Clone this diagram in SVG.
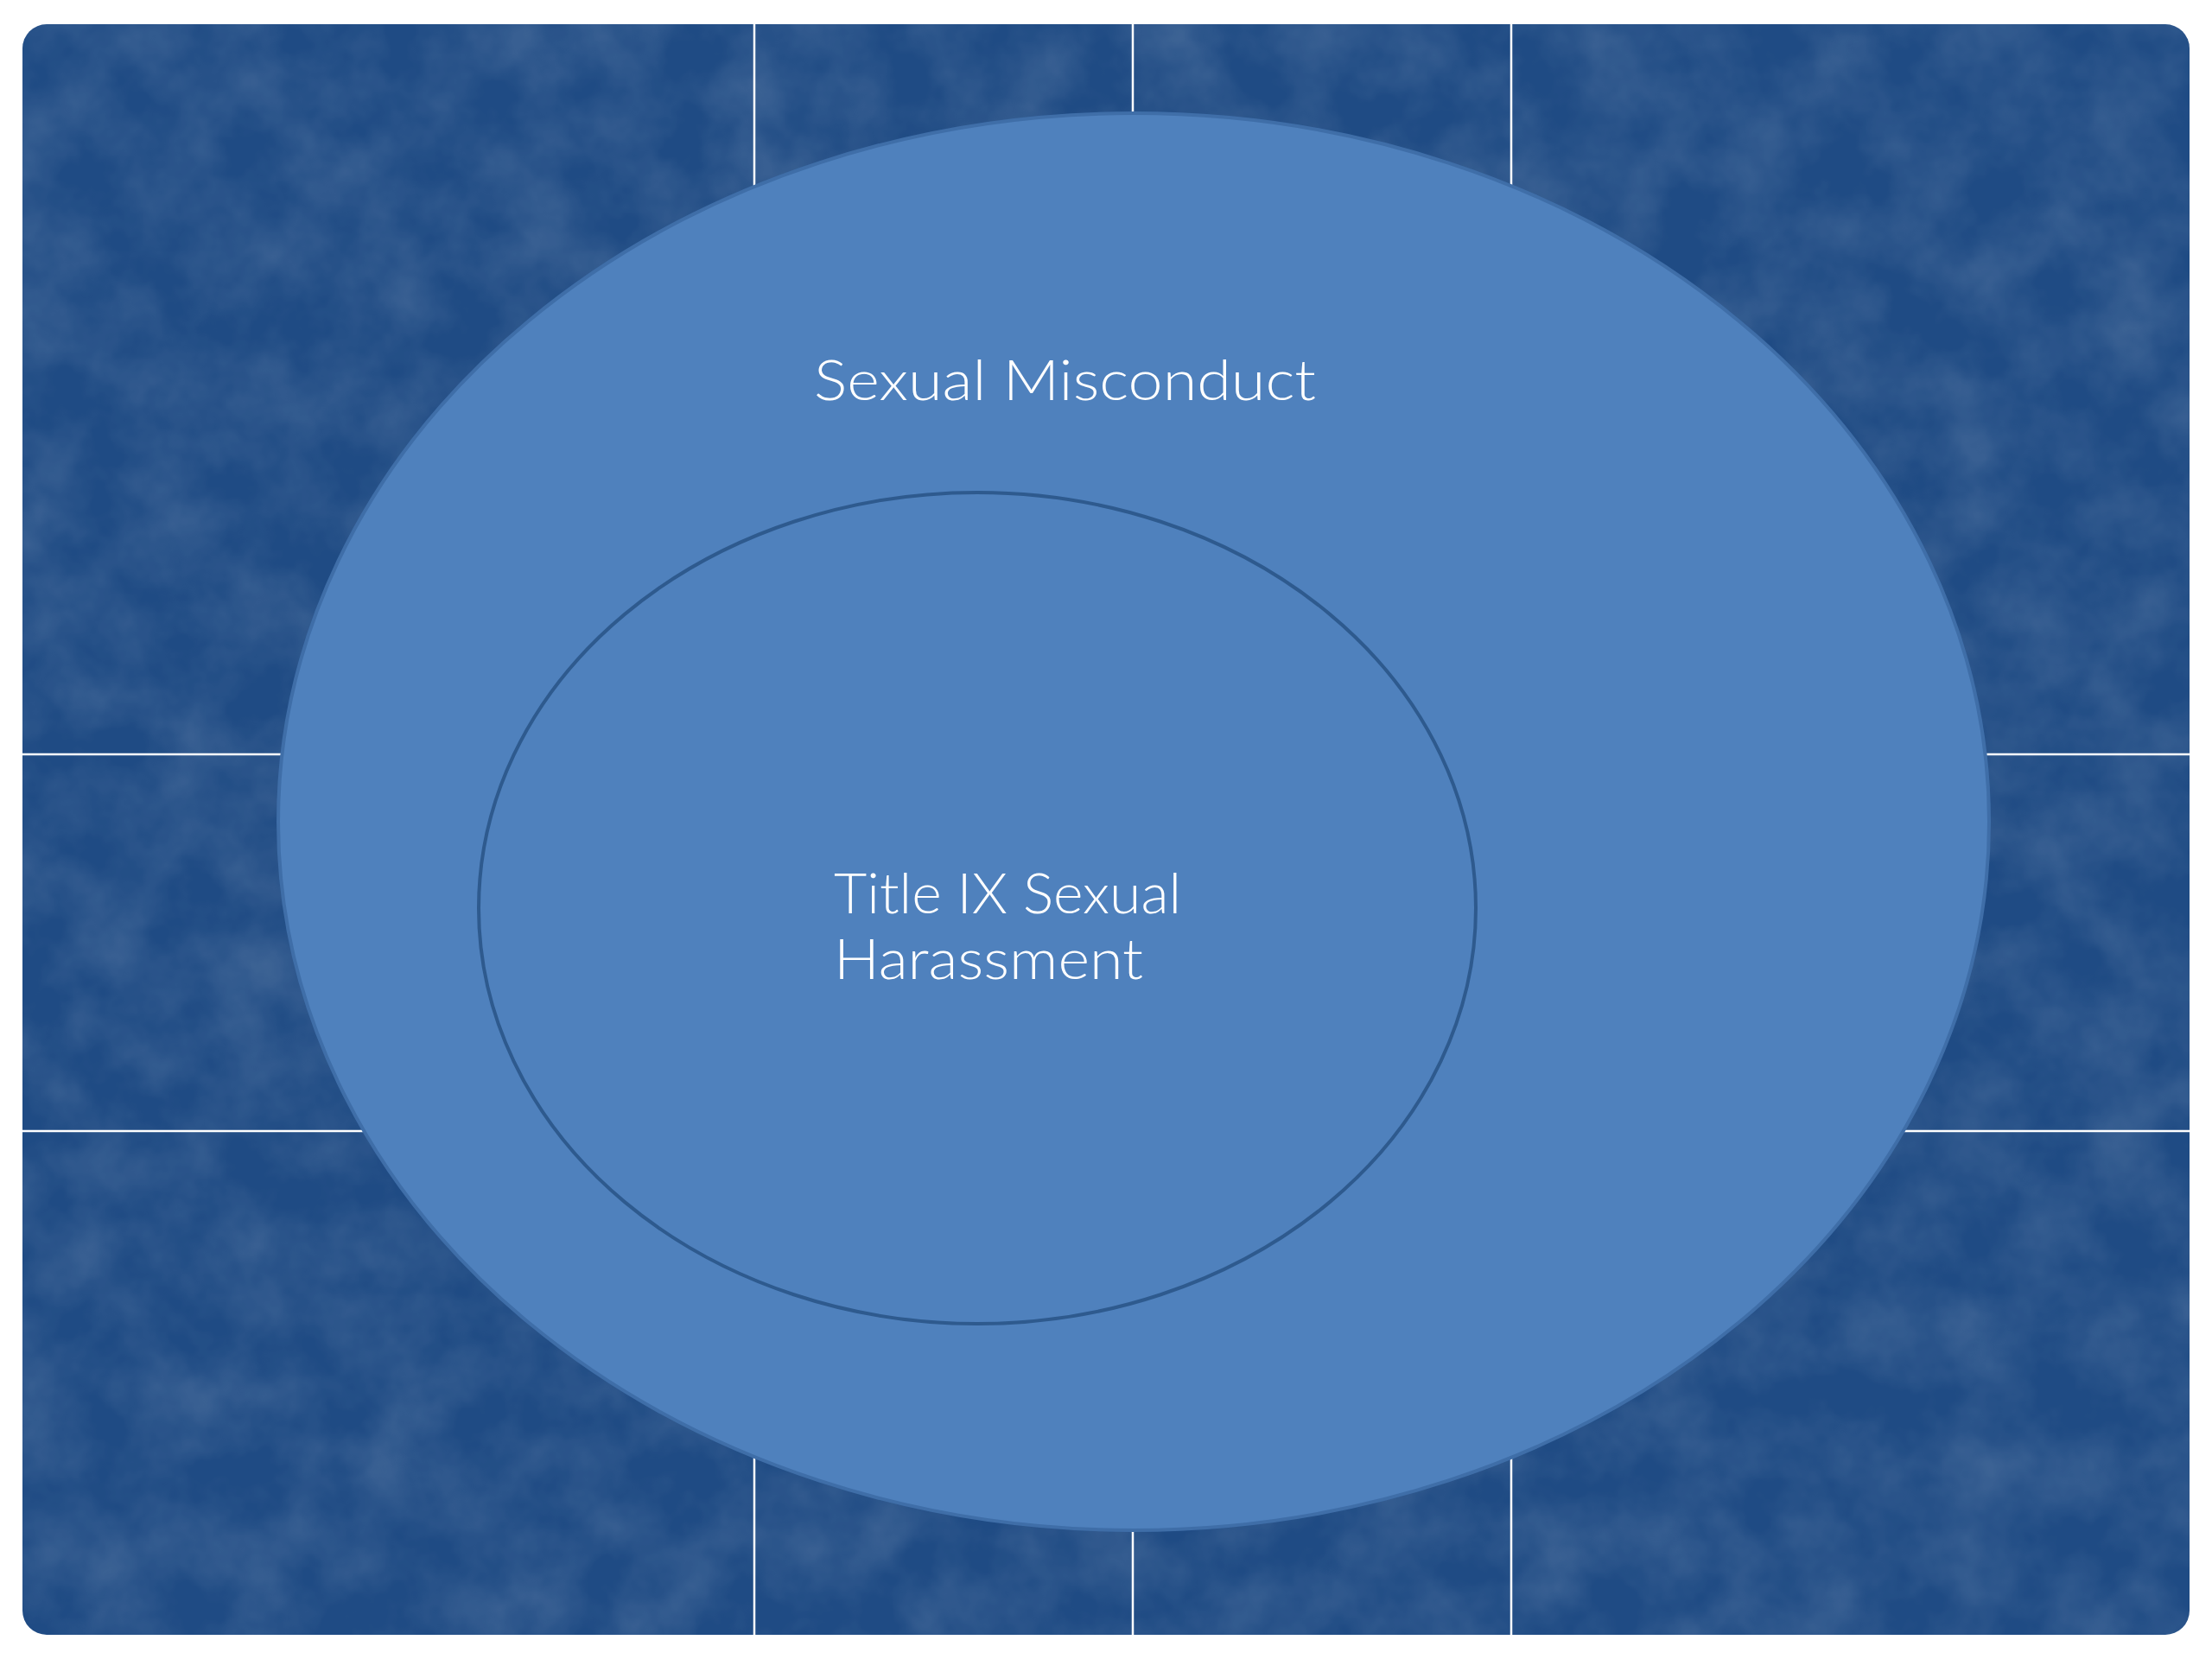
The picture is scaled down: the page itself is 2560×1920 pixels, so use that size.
<svg xmlns="http://www.w3.org/2000/svg" width="2560" height="1920" viewBox="0 0 2560 1920">
  <defs>
    <filter id="mottle" x="0" y="0" width="100%" height="100%">
      <feTurbulence type="fractalNoise" baseFrequency="0.012" numOctaves="4" seed="7" result="n"/>
      <feColorMatrix in="n" type="matrix" values="0 0 0 0 1  0 0 0 0 1  0 0 0 0 1  0.22 0 0 0 -0.07" result="c"/>
      <feComposite in="c" in2="SourceGraphic" operator="in"/>
    </filter>
    <clipPath id="bgclip">
      <rect x="26" y="28" width="2508" height="1864" rx="28" ry="28"/>
    </clipPath>
  </defs>
  <style>
    .grid { stroke: #ffffff; stroke-width: 2.5; fill: none; }
    .outer { fill: #4F81BD; stroke: #3F6EA8; stroke-width: 4; }
    .inner { fill: #4F81BD; stroke: #2E5A8E; stroke-width: 4; }
    .lbl { font-family: "Lato", "Open Sans", "Liberation Sans", sans-serif; font-weight: 300; font-size: 66px; fill: #ffffff; }
  </style>
  <rect x="0" y="0" width="2560" height="1920" fill="#ffffff"/>
  <g id="background">
    <rect x="26" y="28" width="2508" height="1864" rx="28" ry="28" fill="#1F4B84"/>
    <rect x="26" y="28" width="2508" height="1864" rx="28" ry="28" fill="#ffffff" filter="url(#mottle)"/>
  </g>
  <g id="grid" clip-path="url(#bgclip)">
    <line class="grid" x1="873" y1="28" x2="873" y2="1892"/>
    <line class="grid" x1="1311" y1="28" x2="1311" y2="1892"/>
    <line class="grid" x1="1749" y1="28" x2="1749" y2="1892"/>
    <line class="grid" x1="26" y1="873" x2="2534" y2="873"/>
    <line class="grid" x1="26" y1="1309" x2="2534" y2="1309"/>
  </g>
  <g id="sexual-misconduct">
    <ellipse class="outer" cx="1312" cy="951" rx="990" ry="820"/>
    <text class="lbl" x="942" y="463" textLength="581" lengthAdjust="spacingAndGlyphs">Sexual Misconduct</text>
  </g>
  <g id="title-ix">
    <ellipse class="inner" cx="1131" cy="1051" rx="577" ry="481"/>
    <text class="lbl" x="965" y="1057" textLength="402" lengthAdjust="spacingAndGlyphs">Title IX Sexual</text>
    <text class="lbl" x="965" y="1133" textLength="358" lengthAdjust="spacingAndGlyphs">Harassment</text>
  </g>
</svg>
